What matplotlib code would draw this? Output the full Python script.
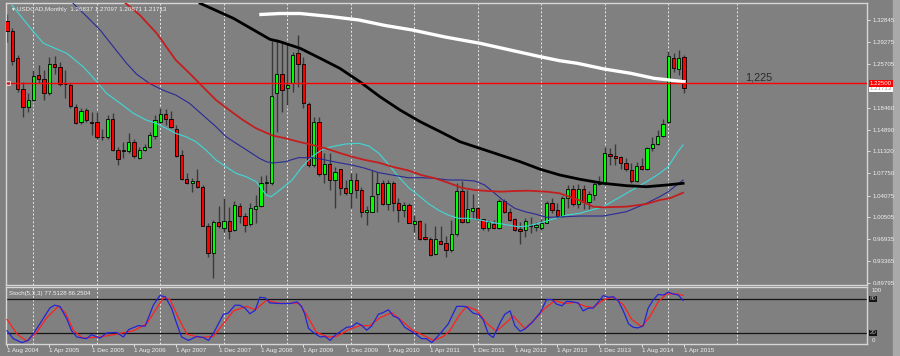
import matplotlib
matplotlib.use("Agg")
import matplotlib.pyplot as plt
from matplotlib.patches import Rectangle
import numpy as np
import pandas as pd

plt.rcParams['font.family'] = ['Liberation Sans', 'DejaVu Sans']

# ---------------- data ----------------
symbol_title = "USDCAD,Monthly"
first_month = "2004-08"

opens = [1.327, 1.311, 1.266, 1.216, 1.186, 1.197, 1.238, 1.231, 1.209, 1.257,
         1.252, 1.2235, 1.222, 1.186, 1.161, 1.181, 1.162, 1.162, 1.137, 1.136,
         1.167, 1.115, 1.116, 1.113, 1.129, 1.102, 1.116, 1.120, 1.139, 1.162,
         1.174, 1.167, 1.149, 1.107, 1.068, 1.061, 1.065, 1.054, 0.991, 0.946,
         0.998, 0.988, 0.9995, 0.985, 1.024, 1.007, 0.994, 1.018, 1.024, 1.061,
         1.061, 1.208, 1.240, 1.2165, 1.225, 1.274, 1.257, 1.191, 1.091, 1.161,
         1.076, 1.092, 1.067, 1.084, 1.0525, 1.045, 1.066, 1.050, 1.013, 1.014,
         1.043, 1.062, 1.027, 1.062, 1.029, 1.017, 1.025, 0.994, 0.999, 0.972,
         0.969, 0.9444, 0.966, 0.9634, 0.951, 0.977, 1.0487, 0.998, 1.016, 1.0197,
         1.0018, 0.987, 0.9936, 0.987, 1.0318, 1.0143, 1.0018, 0.9854, 0.9843, 0.9924,
         0.9885, 0.987, 0.996, 1.029, 1.017, 1.0072, 1.036, 1.051, 1.027, 1.051,
         1.030, 1.042, 1.060, 1.062, 1.1088, 1.106, 1.1034, 1.0936, 1.0826, 1.0651,
         1.089, 1.085, 1.118, 1.125, 1.138, 1.1618, 1.2667, 1.2476, 1.26837]
highs = [1.338, 1.316, 1.271, 1.227, 1.209, 1.246, 1.255, 1.247, 1.268, 1.269,
         1.259, 1.246, 1.225, 1.190, 1.184, 1.185, 1.177, 1.177, 1.150, 1.173,
         1.176, 1.121, 1.129, 1.144, 1.134, 1.120, 1.126, 1.145, 1.173, 1.184,
         1.182, 1.180, 1.156, 1.115, 1.077, 1.069, 1.085, 1.058, 0.995, 1.001,
         1.024, 1.036, 1.022, 1.031, 1.028, 1.012, 1.028, 1.042, 1.073, 1.075,
         1.294, 1.298, 1.293, 1.290, 1.276, 1.304, 1.268, 1.194, 1.170, 1.170,
         1.110, 1.110, 1.088, 1.085, 1.066, 1.077, 1.077, 1.055, 1.024, 1.083,
         1.080, 1.066, 1.066, 1.065, 1.036, 1.030, 1.028, 1.009, 1.000, 0.996,
         0.972, 0.990, 0.991, 0.975, 1.000, 1.062, 1.065, 1.050, 1.044, 1.022,
         1.003, 1.000, 1.000, 1.035, 1.0346, 1.020, 1.004, 0.998, 1.004, 1.005,
         0.998, 1.003, 1.032, 1.036, 1.028, 1.040, 1.058, 1.058, 1.059, 1.058,
         1.048, 1.064, 1.072, 1.120, 1.118, 1.125, 1.106, 1.102, 1.094, 1.095,
         1.102, 1.120, 1.137, 1.148, 1.166, 1.277, 1.275, 1.280, 1.27097]
lows = [1.293, 1.255, 1.211, 1.170, 1.178, 1.195, 1.225, 1.197, 1.205, 1.240,
        1.220, 1.200, 1.184, 1.158, 1.158, 1.162, 1.140, 1.134, 1.132, 1.133,
        1.113, 1.091, 1.102, 1.110, 1.102, 1.100, 1.113, 1.118, 1.134, 1.159,
        1.156, 1.151, 1.104, 1.066, 1.060, 1.047, 1.053, 0.990, 0.940, 0.905,
        0.987, 0.981, 0.970, 0.983, 0.996, 0.981, 0.991, 0.996, 1.022, 1.045,
        1.058, 1.145, 1.178, 1.189, 1.211, 1.219, 1.185, 1.088, 1.088, 1.073,
        1.061, 1.050, 1.020, 1.042, 1.042, 1.020, 1.036, 1.006, 0.992, 1.013,
        1.013, 1.025, 1.017, 1.016, 0.998, 1.006, 0.995, 0.981, 0.968, 0.968,
        0.942, 0.9433, 0.961, 0.940, 0.949, 0.975, 0.995, 0.995, 1.002, 1.000,
        0.984, 0.983, 0.986, 0.986, 1.012, 0.999, 0.983, 0.962, 0.972, 0.979,
        0.982, 0.984, 0.995, 1.012, 1.004, 1.005, 1.020, 1.024, 1.020, 1.018,
        1.018, 1.033, 1.058, 1.058, 1.091, 1.091, 1.085, 1.081, 1.062, 1.063,
        1.082, 1.082, 1.113, 1.123, 1.136, 1.160, 1.244, 1.238, 1.20871]
closes = [1.310, 1.261, 1.216, 1.186, 1.197, 1.237, 1.232, 1.209, 1.256, 1.252,
          1.224, 1.2230, 1.187, 1.160, 1.179, 1.165, 1.160, 1.136, 1.136, 1.166,
          1.115, 1.100, 1.113, 1.129, 1.105, 1.116, 1.120, 1.140, 1.164, 1.174,
          1.167, 1.153, 1.106, 1.068, 1.062, 1.065, 1.054, 0.991, 0.946, 0.998,
          0.991, 0.999, 0.983, 1.025, 1.007, 0.9925, 1.020, 1.024, 1.061, 1.063,
          1.204, 1.240, 1.214, 1.222, 1.271, 1.257, 1.192, 1.091, 1.161, 1.076,
          1.092, 1.067, 1.080, 1.0525, 1.045, 1.067, 1.050, 1.013, 1.017, 1.040,
          1.062, 1.027, 1.062, 1.029, 1.017, 1.025, 0.996, 0.999, 0.9695, 0.969,
          0.9433, 0.9695, 0.962, 0.951, 0.977, 1.0487, 0.998, 1.018, 1.0197, 1.0018,
          0.987, 0.997, 0.987, 1.032, 1.0143, 1.0006, 0.9843, 0.983, 0.999, 0.9908,
          0.9924, 0.996, 1.029, 1.017, 1.0072, 1.036, 1.051, 1.027, 1.051, 1.030,
          1.043, 1.060, 1.062, 1.111, 1.1055, 1.103, 1.0946, 1.0838, 1.0651, 1.0892,
          1.085, 1.118, 1.125, 1.138, 1.158, 1.2694, 1.249, 1.2667, 1.21713]

# moving averages: (month offset from first bar, price)
ma_cyan_t = [0.9, 5, 6.9, 11.3, 14.4, 17, 18.8, 21.4, 23.9, 26.3, 28.2, 30.1, 31.9, 33.8, 35.7,
             37.6, 39.5, 41.4, 43.3, 45.2, 47.1, 49, 49.9, 50.8, 52, 53.9, 55.8, 57.6, 59.5,
             61.4, 64, 66.5, 68.4, 70.3, 72.2, 74, 75.9, 77.7, 79.6, 81.5, 83.4, 85.3, 87.1,
             89, 90.9, 92.8, 94.7, 96.6, 98.5, 100.4, 102, 105.8, 108.3, 112.7, 117.1, 120.9,
             123.4, 125, 126.6, 127.8]
ma_cyan = [1.3530, 1.3093, 1.2903, 1.2739, 1.2519, 1.2273, 1.2083, 1.1919, 1.1755, 1.1645,
           1.1591, 1.1509, 1.1427, 1.1372, 1.1290, 1.1154, 1.0990, 1.0880, 1.0771, 1.0716,
           1.0634, 1.0416, 1.0388, 1.0444, 1.0526, 1.0662, 1.0880, 1.1044, 1.1154, 1.1208,
           1.1252, 1.1264, 1.1219, 1.1100, 1.0908, 1.0716, 1.0539, 1.0416, 1.0280, 1.0170,
           1.0088, 1.0034, 1.0034, 1.0018, 0.9979, 0.9952, 0.9924, 0.9897, 0.9908, 0.9952,
           0.9990, 1.0088, 1.0116, 1.0225, 1.0444, 1.0634, 1.0772, 1.0880, 1.1100, 1.1236]
ma_navy_t = [12.5, 15.1, 17.6, 20.1, 22.6, 24.5, 26.9, 29.4, 31.9, 34.5, 37, 39.5, 41.4, 43.3,
             45.8, 47.7, 49, 50.2, 52.6, 55.1, 57.7, 60.2, 62.7, 65.2, 67.7, 70.3, 72.8, 75.9,
             78.3, 80.9, 83.4, 85.9, 88.4, 90.3, 92.2, 94.1, 96, 97.9, 99.8, 102, 104.5, 108.3,
             112.7, 117.1, 120.9, 123.4, 125, 126.6, 127.8]
ma_navy = [1.3558, 1.3339, 1.3121, 1.2847, 1.2575, 1.2396, 1.2247, 1.2137, 1.2055, 1.1919,
           1.1727, 1.1536, 1.1372, 1.1264, 1.1126, 1.1018, 1.0963, 1.0941, 1.0962, 1.1028,
           1.1028, 1.0990, 1.0946, 1.0908, 1.0854, 1.0782, 1.0744, 1.0698, 1.0700, 1.0690,
           1.0662, 1.0662, 1.0646, 1.0580, 1.0444, 1.0307, 1.0198, 1.0143, 1.0105, 1.0051,
           1.0056, 1.0072, 1.0072, 1.0143, 1.0280, 1.0389, 1.0470, 1.0580, 1.0662]
ma_red_t = [21.7, 25.1, 28.3, 31.9, 34.5, 37, 39.5, 42, 44.6, 47.1, 50.2, 52.6, 55.1, 57.7,
            60.2, 62.7, 65.2, 67.7, 70.3, 72.8, 75.9, 78.3, 80.9, 83.4, 85.9, 88.4, 90.9,
            93.4, 96, 98.5, 102, 104.5, 108.3, 110.8, 112.7, 117.1, 120.9, 123.4, 125.3, 127.8]
ma_red = [1.3612, 1.3366, 1.3066, 1.2629, 1.2411, 1.2191, 1.1973, 1.1809, 1.1645, 1.1509,
          1.1391, 1.1346, 1.1290, 1.1236, 1.1182, 1.1110, 1.1044, 1.0990, 1.0946, 1.0880,
          1.0818, 1.0744, 1.0690, 1.0618, 1.0536, 1.0498, 1.0482, 1.0471, 1.0482, 1.0487,
          1.0471, 1.0444, 1.0326, 1.0225, 1.0215, 1.0225, 1.0269, 1.0334, 1.0362, 1.0454]
ma_black_t = [36.5, 42.8, 49.7, 51.6, 55.4, 59.2, 62.9, 66.7, 70.5, 74.3, 78.1, 81.9, 85.6,
              89.4, 93.2, 97, 100.8, 104.5, 108.3, 112.7, 117.1, 120.9, 124.7, 127.8]
ma_black = [1.3558, 1.3312, 1.2968, 1.2929, 1.2821, 1.2657, 1.2493, 1.2273, 1.2027, 1.1809,
            1.1618, 1.1454, 1.1290, 1.1181, 1.1072, 1.0962, 1.0838, 1.0744, 1.0674, 1.0608,
            1.0569, 1.0552, 1.0580, 1.0608]
ma_white_t = [48, 51.6, 55.4, 61.1, 66.5, 71.5, 76.6, 82.8, 89.4, 95.1, 100.8, 104.5, 107.8,
              112.9, 117.9, 122.3, 128]
ma_white = [1.3375, 1.3391, 1.3391, 1.3342, 1.3285, 1.3194, 1.3121, 1.3006, 1.2903, 1.2793,
            1.2683, 1.2617, 1.2575, 1.2481, 1.2411, 1.2329, 1.2273]

# stochastic (5,3,3): %K and %D
stoch_k_t = [0, 1.2, 2.8, 4, 5, 6.2, 8.1, 9, 10, 11.3, 12.2, 13.2, 15, 16, 17.6, 18.8, 20.7, 22,
             23, 24.8, 26.1, 27.7, 28.9, 29.9, 31.1, 32.1, 33, 34.3, 35.9, 37.1, 38.1, 39, 40.9,
             41.8, 43.1, 44, 45, 45.9, 46.9, 47.8, 48.8, 49.7, 51.6, 53.5, 54.8, 55.7, 56.3, 57,
             58.2, 59.2, 60.1, 61.1, 62, 64.2, 65.2, 66.1, 67, 68, 68.9, 70.2, 71.1, 72.1, 73,
             74, 75.2, 76.8, 78.4, 79.3, 80.3, 81.9, 83.4, 85, 86.3, 86.9, 88.1, 89.1, 90, 91,
             91.9, 93.2, 94.1, 95.1, 96, 97, 97.9, 99.2, 100.8, 102, 103, 103.9, 104.9, 105.8,
             106.8, 108, 108.9, 109.9, 110.8, 111.8, 112.7, 113.7, 114.6, 115.6, 116.5, 117.5,
             118.4, 119.3, 120.3, 121.2, 122.2, 123.1, 124.1, 125, 125.9, 126.9, 127.8]
stoch_k = [24, 10, 3, 7, 19, 36, 64, 69, 67, 45, 24, 13, 10, 17, 11, 20, 21, 13,
           26, 33, 32, 70, 86, 84, 64, 36, 13, 7, 14, 12, 7, 19, 53,
           55, 69, 69, 64, 54, 60, 83, 82, 73, 72, 72, 75, 67, 53, 28,
           19, 13, 14, 7, 16, 30, 31, 38, 34, 25, 32, 53, 56, 61, 50,
           46, 30, 21, 10, 10, 3, 19, 36, 67, 67, 66, 55, 53, 44, 18,
           12, 38, 53, 59, 33, 23, 27, 38, 56, 79, 79, 71, 68, 76,
           75, 73, 59, 64, 64, 75, 86, 83, 84, 76, 59, 36,
           30, 29, 33, 64, 79, 88, 87, 92, 89, 87, 77.5128]
stoch_d_t = [0, 1.9, 3.7, 5.6, 7.5, 9.7, 11, 12.6, 14.3, 17.6, 20.7, 23.9, 26.4, 28.3, 29.6,
             30.8, 32.4, 34, 36.5, 39, 40.9, 42.8, 45.3, 46.9, 49.1, 51, 52.9, 55.1, 56.6, 58.5,
             60.7, 62.3, 64.8, 66.7, 68.6, 70.5, 72.7, 74.3, 76.8, 78.7, 80.6, 82.5, 83.7, 85.6,
             86.9, 88.8, 90.6, 92.5, 94.1, 95.7, 97.9, 99.8, 101.7, 103.6, 105.5, 107.4, 109.3,
             110.8, 112.7, 114.6, 116.5, 118.1, 120, 121.6, 123.1, 124.7, 126.6, 127.8]
stoch_d = [44, 18, 6, 21, 47, 67, 56, 24, 11, 13, 18, 24, 36, 64, 83,
           79, 47, 18, 12, 14, 36, 59, 67, 61, 78, 73, 72, 73, 53, 21,
           13, 14, 27, 33, 33, 47, 56, 44, 24, 16, 7, 14, 24, 53,
           67, 60, 38, 23, 36, 50, 28, 44, 64, 77, 72, 74, 67,
           65, 78, 84, 70, 44, 31, 50, 75, 89, 89, 86.2504]

level_price = 1.225
level_label = "1,225"
price_ticks = [1.32845, 1.29275, 1.25705, 1.18460, 1.14890, 1.11320, 1.07750,
               1.04075, 1.00505, 0.96935, 0.93365, 0.89795]
stoch_levels = [80, 20]

# ---------------- layout helpers (pixels of the 900x356 picture) ----------------
W, H = 900, 356
BG = '#808080'
fig = plt.figure(figsize=(W / 100, H / 100), dpi=100)
fig.patch.set_facecolor(BG)

# right-hand scroll strip (behind everything)
fig.patches.append(Rectangle((893 / W, 0), 7 / W, 1, transform=fig.transFigure,
                             color='#a9a9a9', zorder=-5))


def frame(l, t, r, b):
    return [l / W, 1 - b / H, (r - l) / W, (b - t) / H]


ax = fig.add_axes(frame(6, 3, 867, 285))
ax2 = fig.add_axes(frame(6, 287, 867, 344))
for a in (ax, ax2):
    a.set_facecolor(BG)
    for s in a.spines.values():
        s.set_color('#d6d6d6')
        s.set_linewidth(1.0)

bar_px, bar0_px = 5.29, 7.0
xl = ((6 - bar0_px) / bar_px, (867 - bar0_px) / bar_px)
ax.set_xlim(*xl)
ax2.set_xlim(*xl)
ppx = 0.001639  # price per pixel
ax.set_ylim(1.32845 - (285 - 20) * ppx, 1.32845 + (20 - 3) * ppx)
ax2.set_ylim(20 - (344 - 333) * 60 / 34, 80 + (299 - 287) * 60 / 34)

# ---------------- grid ----------------
n = len(closes)
months = pd.period_range(first_month, periods=n, freq='M')
grid_idx = [i for i, m in enumerate(months) if m.month == 1] + [138]
for a in (ax, ax2):
    for g in grid_idx:
        a.axvline(g, color='#e8e8e8', lw=0.7, ls=(0, (2, 2)), zorder=1)

# ---------------- candles ----------------
idx = np.arange(n)
o = np.array(opens); h = np.array(highs); l = np.array(lows); c = np.array(closes)
up = c >= o
ax.vlines(idx, l, h, color='#3a3a3a', lw=1.0, zorder=2)
bottom = np.minimum(o, c)
height = np.maximum(np.abs(c - o), 0.0009)
ax.bar(idx[up], height[up], bottom=bottom[up], width=0.62, color='#00ff00',
       edgecolor='black', linewidth=0.6, zorder=3)
ax.bar(idx[~up], height[~up], bottom=bottom[~up], width=0.62, color='#ff0000',
       edgecolor='black', linewidth=0.6, zorder=3)

# ---------------- moving averages ----------------
ax.plot(ma_cyan_t, ma_cyan, color='#3fd8d8', lw=0.8, zorder=4)
ax.plot(ma_navy_t, ma_navy, color='#2a2a96', lw=0.8, zorder=4)
ax.plot(ma_red_t, ma_red, color='#c41e1e', lw=1.3, zorder=4)
ax.plot(ma_black_t, ma_black, color='#000000', lw=2.0, zorder=4)
ax.plot(ma_white_t, ma_white, color='#ffffff', lw=2.4, zorder=4)

# ---------------- horizontal level ----------------
ax.axhline(level_price, color='#ff0000', lw=1.0, zorder=5)
ax.plot([xl[0] + 0.3], [level_price], marker='s', ms=2.2, mfc='none', mec='#ffd0d0', mew=0.6,
        zorder=6, clip_on=False)
ax.text(139.5, 1.2350, level_label, fontsize=7.8, color='#2b2b2b', ha='left', va='center')

# ---------------- price axis ----------------
ax.set_xticks([])
ax.yaxis.tick_right()
ax.set_yticks(price_ticks, [f"{v:.5f}" for v in price_ticks])
ax.tick_params(axis='y', colors='#f0f0f0', length=2.5, width=0.6, pad=1.3, labelsize=4.4)
ytr = ax.get_yaxis_transform()
ax.text(1.0035, c[-1] - 0.0010, f"{c[-1]:.5f}", transform=ytr, fontsize=4.4, color='#9a9a9a',
        ha='left', va='center', zorder=7,
        bbox=dict(boxstyle='square,pad=0.15', fc='#ffffff', ec='none'))
ax.text(1.0035, level_price, f"{level_price:.5f}", transform=ytr, fontsize=4.4, color='#ffffff',
        ha='left', va='center', zorder=8,
        bbox=dict(boxstyle='square,pad=0.15', fc='#ff0000', ec='none'))

# ---------------- stochastic panel ----------------
for lv in stoch_levels:
    ax2.axhline(lv, color='#141414', lw=0.9, zorder=2)
ax2.plot(stoch_d_t, stoch_d, color='#ff2020', lw=0.9, zorder=3)
ax2.plot(stoch_k_t, stoch_k, color='#2424d8', lw=0.9, zorder=4)
ax2.set_yticks([])
y2tr = ax2.get_yaxis_transform()
for lv in stoch_levels:
    ax2.text(1.0035, lv, str(lv), transform=y2tr, fontsize=4.4, color='#b0b0b0',
             ha='left', va='center',
             bbox=dict(boxstyle='square,pad=0.12', fc='#141414', ec='none'))
fig.text(872 / W, 1 - 291 / H, "100", fontsize=4.4, color='#f0f0f0', va='center')
fig.text(872 / W, 1 - 340 / H, "0", fontsize=4.4, color='#f0f0f0', va='center')

label_idx = np.arange(0, n, 8)
ax2.set_xticks(label_idx, [f"1 {months[i].strftime('%b %Y')}" for i in label_idx])
for t in ax2.get_xticklabels():
    t.set_ha('left')
ax2.tick_params(axis='x', colors='#f0f0f0', length=2, width=0.6, pad=1, labelsize=4.5)

# ---------------- texts ----------------
fig.text(10 / W, 1 - 9 / H, "\u25bc", fontsize=3.5, color='#f0f0f0', va='center')
fig.text(17 / W, 1 - 9 / H,
         f"{symbol_title}  {o[-1]:.5f} {h[-1]:.5f} {l[-1]:.5f} {c[-1]:.5f}",
         fontsize=4.5, color='#f0f0f0', va='center')
fig.text(9 / W, 1 - 293 / H,
         f"Stoch(5,3,3) {stoch_k[-1]:.4f} {stoch_d[-1]:.4f}",
         fontsize=4.4, color='#f0f0f0', va='center')

fig.savefig('out.png', dpi=100, facecolor=fig.get_facecolor())
